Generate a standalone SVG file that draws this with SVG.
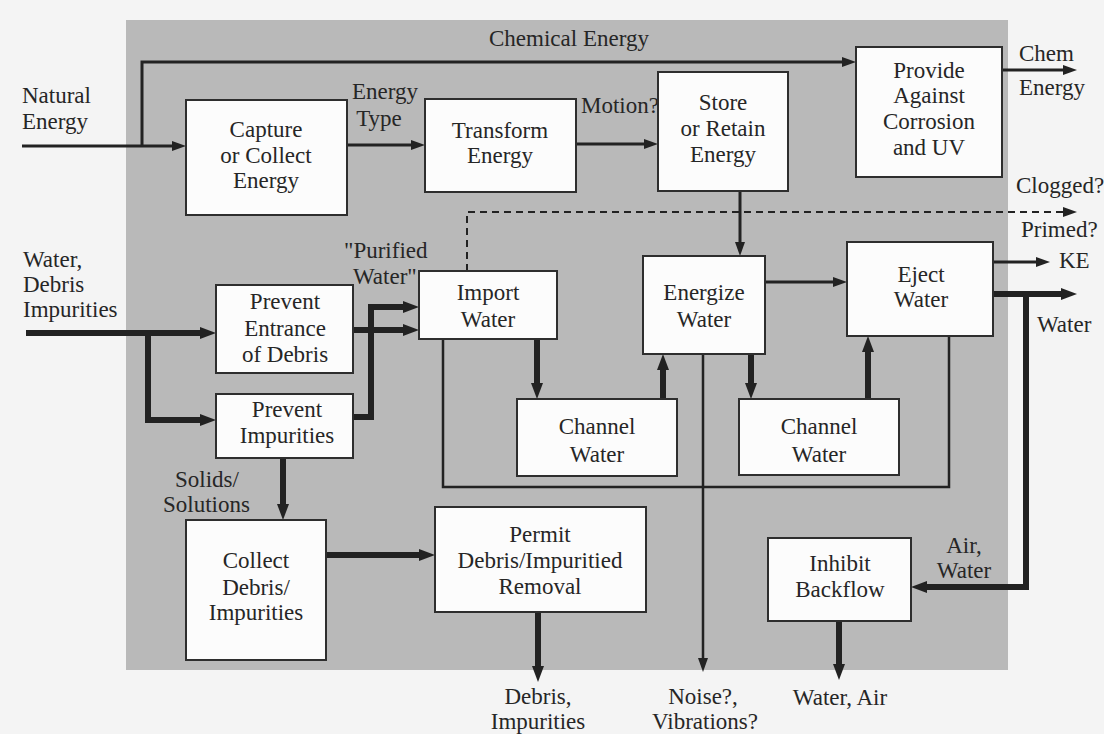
<svg xmlns="http://www.w3.org/2000/svg" width="1104" height="734" viewBox="0 0 1104 734">
<style>
text{font-family:"Liberation Serif","Times New Roman",serif;font-size:23px;fill:#262626}
.m{text-anchor:middle}
.box{fill:#fcfcfc;stroke:#2e2e2e;stroke-width:2}
.c{fill:none;stroke:#222}
.t1{stroke-width:3}
.t0{stroke-width:2.5}
.tk{stroke-width:6}
.dash{stroke-width:2;stroke-dasharray:7 5}
</style>
<defs>
<marker id="a" viewBox="0 0 14 10" refX="6" refY="5" markerWidth="14" markerHeight="10" markerUnits="userSpaceOnUse" orient="auto"><path d="M0,0 L14,5 L0,10 z" fill="#222"/></marker>
<marker id="b" viewBox="0 0 16 12" refX="6" refY="6" markerWidth="16" markerHeight="12" markerUnits="userSpaceOnUse" orient="auto"><path d="M0,0 L16,6 L0,12 z" fill="#222"/></marker>
</defs>
<rect x="0" y="0" width="1104" height="734" fill="#f4f4f4"/>
<rect x="126" y="20" width="882" height="650" fill="#b9b9b9"/>

<g id="connectors">
<path class="c t1" d="M22,146 H178" marker-end="url(#a)"/>
<path class="c t1" d="M142,146 V62 H848" marker-end="url(#a)"/>
<path class="c t1" d="M347,145 H417" marker-end="url(#a)"/>
<path class="c t1" d="M576,144 H650" marker-end="url(#a)"/>
<path class="c t1" d="M1002,70 H1069" marker-end="url(#a)"/>
<path class="c t1" d="M740,191 V248" marker-end="url(#a)"/>
<path class="c dash" d="M467,271 V212 H1069" marker-end="url(#a)"/>
<path class="c tk" d="M26,333 H206" marker-end="url(#b)"/>
<path class="c tk" d="M148,333 V420 H206" marker-end="url(#b)"/>
<path class="c tk" d="M353,330 H409" marker-end="url(#b)"/>
<path class="c tk" d="M353,417 H371 V307 H409" marker-end="url(#b)"/>
<path class="c tk" d="M283,458 V510" marker-end="url(#b)"/>
<path class="c tk" d="M326,555 H425" marker-end="url(#b)"/>
<path class="c tk" d="M538,612 V672" marker-end="url(#b)"/>
<path class="c tk" d="M537,339 V389" marker-end="url(#b)"/>
<path class="c tk" d="M663,399 V364" marker-end="url(#b)"/>
<path class="c tk" d="M751,354 V389" marker-end="url(#b)"/>
<path class="c tk" d="M868,399 V346" marker-end="url(#b)"/>
<path class="c t1" d="M765,282 H839" marker-end="url(#a)"/>
<path class="c t1" d="M993,262 H1042" marker-end="url(#a)"/>
<path class="c tk" d="M993,294 H1067" marker-end="url(#b)"/>
<path class="c tk" d="M1026,294 V587 H921" marker-end="url(#b)"/>
<path class="c tk" d="M839,621 V670" marker-end="url(#b)"/>
<path class="c t0" d="M443,339 V487 H949 V336"/>
<path class="c t0" d="M703,354 V664" marker-end="url(#a)"/>
</g>

<g id="labels">
<text x="22" y="103">Natural</text>
<text x="22" y="129">Energy</text>
<text x="489" y="46">Chemical Energy</text>
<text class="m" x="385" y="99">Energy</text>
<text class="m" x="379" y="126">Type</text>
<text x="581" y="113">Motion?</text>
<text x="1019" y="61">Chem</text>
<text x="1019" y="95">Energy</text>
<text x="1016" y="193">Clogged?</text>
<text x="1021" y="237">Primed?</text>
<text x="1059" y="268">KE</text>
<text x="1037" y="332">Water</text>
<text x="23" y="267">Water,</text>
<text x="23" y="292">Debris</text>
<text x="23" y="317">Impurities</text>
<text x="344" y="258">"Purified</text>
<text x="353" y="284">Water"</text>
<text x="175" y="487">Solids/</text>
<text x="163" y="512">Solutions</text>
<text class="m" x="538" y="704">Debris,</text>
<text class="m" x="538" y="729">Impurities</text>
<text class="m" x="703" y="704">Noise?,</text>
<text class="m" x="705" y="729">Vibrations?</text>
<text class="m" x="840" y="705">Water, Air</text>
<text class="m" x="964" y="553">Air,</text>
<text class="m" x="964" y="578">Water</text>
</g>

<g id="capture"><rect class="box" x="186" y="100" width="161" height="115"/>
<text class="m" x="266" y="137">Capture</text><text class="m" x="266" y="163">or Collect</text><text class="m" x="266" y="188">Energy</text></g>
<g id="transform"><rect class="box" x="425" y="99" width="151" height="93"/>
<text class="m" x="500" y="138">Transform</text><text class="m" x="500" y="163">Energy</text></g>
<g id="store"><rect class="box" x="658" y="72" width="130" height="119"/>
<text class="m" x="723" y="110">Store</text><text class="m" x="723" y="136">or Retain</text><text class="m" x="723" y="162">Energy</text></g>
<g id="provide"><rect class="box" x="856" y="47" width="146" height="130"/>
<text class="m" x="929" y="78">Provide</text><text class="m" x="929" y="103">Against</text><text class="m" x="929" y="129">Corrosion</text><text class="m" x="929" y="155">and UV</text></g>
<g id="prevent-entrance"><rect class="box" x="216" y="285" width="137" height="88"/>
<text class="m" x="285" y="309">Prevent</text><text class="m" x="285" y="336">Entrance</text><text class="m" x="285" y="362">of Debris</text></g>
<g id="prevent-impurities"><rect class="box" x="216" y="394" width="137" height="64"/>
<text class="m" x="287" y="417">Prevent</text><text class="m" x="287" y="443">Impurities</text></g>
<g id="import"><rect class="box" x="419" y="271" width="138" height="68"/>
<text class="m" x="488" y="300">Import</text><text class="m" x="488" y="327">Water</text></g>
<g id="energize"><rect class="box" x="643" y="256" width="122" height="98"/>
<text class="m" x="704" y="300">Energize</text><text class="m" x="704" y="327">Water</text></g>
<g id="eject"><rect class="box" x="847" y="242" width="146" height="94"/>
<text class="m" x="921" y="282">Eject</text><text class="m" x="921" y="307">Water</text></g>
<g id="channel1"><rect class="box" x="517" y="399" width="160" height="77"/>
<text class="m" x="597" y="434">Channel</text><text class="m" x="597" y="462">Water</text></g>
<g id="channel2"><rect class="box" x="739" y="399" width="160" height="76"/>
<text class="m" x="819" y="434">Channel</text><text class="m" x="819" y="462">Water</text></g>
<g id="collect"><rect class="box" x="186" y="520" width="140" height="140"/>
<text class="m" x="256" y="568">Collect</text><text class="m" x="256" y="595">Debris/</text><text class="m" x="256" y="620">Impurities</text></g>
<g id="permit"><rect class="box" x="435" y="507" width="211" height="105"/>
<text class="m" x="540" y="542">Permit</text><text class="m" x="540" y="568">Debris/Impuritied</text><text class="m" x="540" y="594">Removal</text></g>
<g id="inhibit"><rect class="box" x="768" y="538" width="143" height="83"/>
<text class="m" x="840" y="571">Inhibit</text><text class="m" x="840" y="597">Backflow</text></g>
</svg>
